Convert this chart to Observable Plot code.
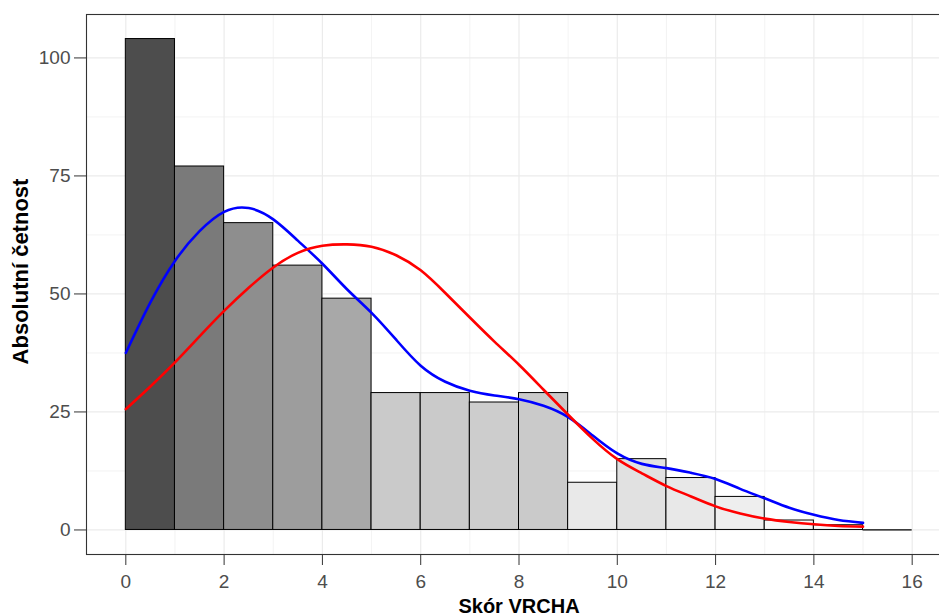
<!DOCTYPE html>
<html><head><meta charset="utf-8">
<script src="https://cdn.jsdelivr.net/npm/d3@7"></script>
<script src="https://cdn.jsdelivr.net/npm/@observablehq/plot@0.6"></script>
<style>
html,body{margin:0;padding:0;background:#fff;overflow:hidden;}
#chart svg{overflow:hidden;display:block;}
</style></head><body><div id="chart"></div>
<script>
// Histogram bins (start of each unit-wide bin) and counts
const binStart = [0,1,2,3,4,5,6,7,8,9,10,11,12,13,14,15];
const counts   = [104,77,65,56,49,29,29,27,29,10,15,11,7,2,1,0];

// Overlaid curves
const curveX    = [0,0.5,1,1.5,2,2.5,3,3.5,4,4.5,5,5.5,6,6.5,7,7.5,8,8.5,9,9.5,10,10.5,11,11.5,12,12.5,13,13.5,14,14.5,15];
const blueCurve = [37.5,48.2,57,63.3,67.4,68.2,65.8,61.3,56.4,51,46,40.3,34.8,31.4,29.5,28.5,27.7,26.3,23.9,20,16.2,14,13.1,12.1,10.8,8.7,6.7,4.7,3.2,2.1,1.5];
const redCurve  = [25.6,30.4,35.5,41,46.4,51.3,55.6,58.7,60.2,60.5,60,58.2,55,50.2,45,39.9,35,29.7,24.4,19.3,15,12,9.3,7.1,5,3.5,2.4,1.7,1.2,0.85,0.7];

// Axis ticks and grid
const xTicks = [0,2,4,6,8,10,12,14,16];
const xMinor = [1,3,5,7,9,11,13,15];
const yTicks = [0,25,50,75,100];
const yMinor = [12.5,37.5,62.5,87.5];

const xTitle = "Skór VRCHA";
const yTitle = "Absolutní četnost";

const bars = binStart.map((s, i) => ({x1: s, x2: s + 1, count: counts[i]}));
const blue = curveX.map((x, i) => ({x, y: blueCurve[i]}));
const red  = curveX.map((x, i) => ({x, y: redCurve[i]}));

const chart = Plot.plot({
  width: 939, height: 616,
  marginLeft: 86, marginRight: -12, marginTop: 14, marginBottom: 62,
  style: {fontFamily: "'Liberation Sans', Arial, Helvetica, sans-serif", background: "white", overflow: "hidden"},
  x: {domain: [-0.8, 16.8]},
  y: {domain: [-5.2, 109.2]},
  color: {type: "linear", domain: [0, 104], range: ["#fafafa", "#4d4d4d"], interpolate: "rgb"},
  marks: [
    Plot.ruleX(xMinor, {stroke: "#ebebeb", strokeWidth: 0.6}),
    Plot.ruleY(yMinor, {stroke: "#ebebeb", strokeWidth: 0.6}),
    Plot.ruleX(xTicks, {stroke: "#ebebeb", strokeWidth: 1.2}),
    Plot.ruleY(yTicks, {stroke: "#ebebeb", strokeWidth: 1.2}),
    Plot.rect(bars, {x1: "x1", x2: "x2", y1: 0, y2: "count", fill: "count", stroke: "black", strokeWidth: 1}),
    Plot.ruleY(bars.filter(d => d.count === 0), {x1: "x1", x2: "x2", y: "count", stroke: "black", strokeWidth: 1.3}),
    Plot.line(blue, {x: "x", y: "y", stroke: "#0000ff", strokeWidth: 2.6, curve: "natural"}),
    Plot.line(red, {x: "x", y: "y", stroke: "#ff0000", strokeWidth: 2.6, curve: "natural"}),
    Plot.frame({stroke: "#333333", strokeWidth: 1.1}),
    Plot.axisX(xTicks, {tickSize: 11, tickPadding: 9, fontSize: 19, color: "#4d4d4d", stroke: "#333333", label: null}),
    Plot.axisY(yTicks, {tickSize: 12, tickPadding: 4, fontSize: 19, color: "#4d4d4d", stroke: "#333333", label: null}),
    Plot.text([xTitle], {text: d => d, frameAnchor: "bottom", dy: 52, fontSize: 20, fontWeight: "bold", fill: "black", textAnchor: "middle", lineAnchor: "middle"}),
    Plot.text([yTitle], {text: d => d, frameAnchor: "left", dx: -66, dy: -13, rotate: -90, fontSize: 22, fontWeight: "bold", fill: "black", textAnchor: "middle", lineAnchor: "middle"})
  ]
});
document.getElementById("chart").append(chart);
</script></body></html>
